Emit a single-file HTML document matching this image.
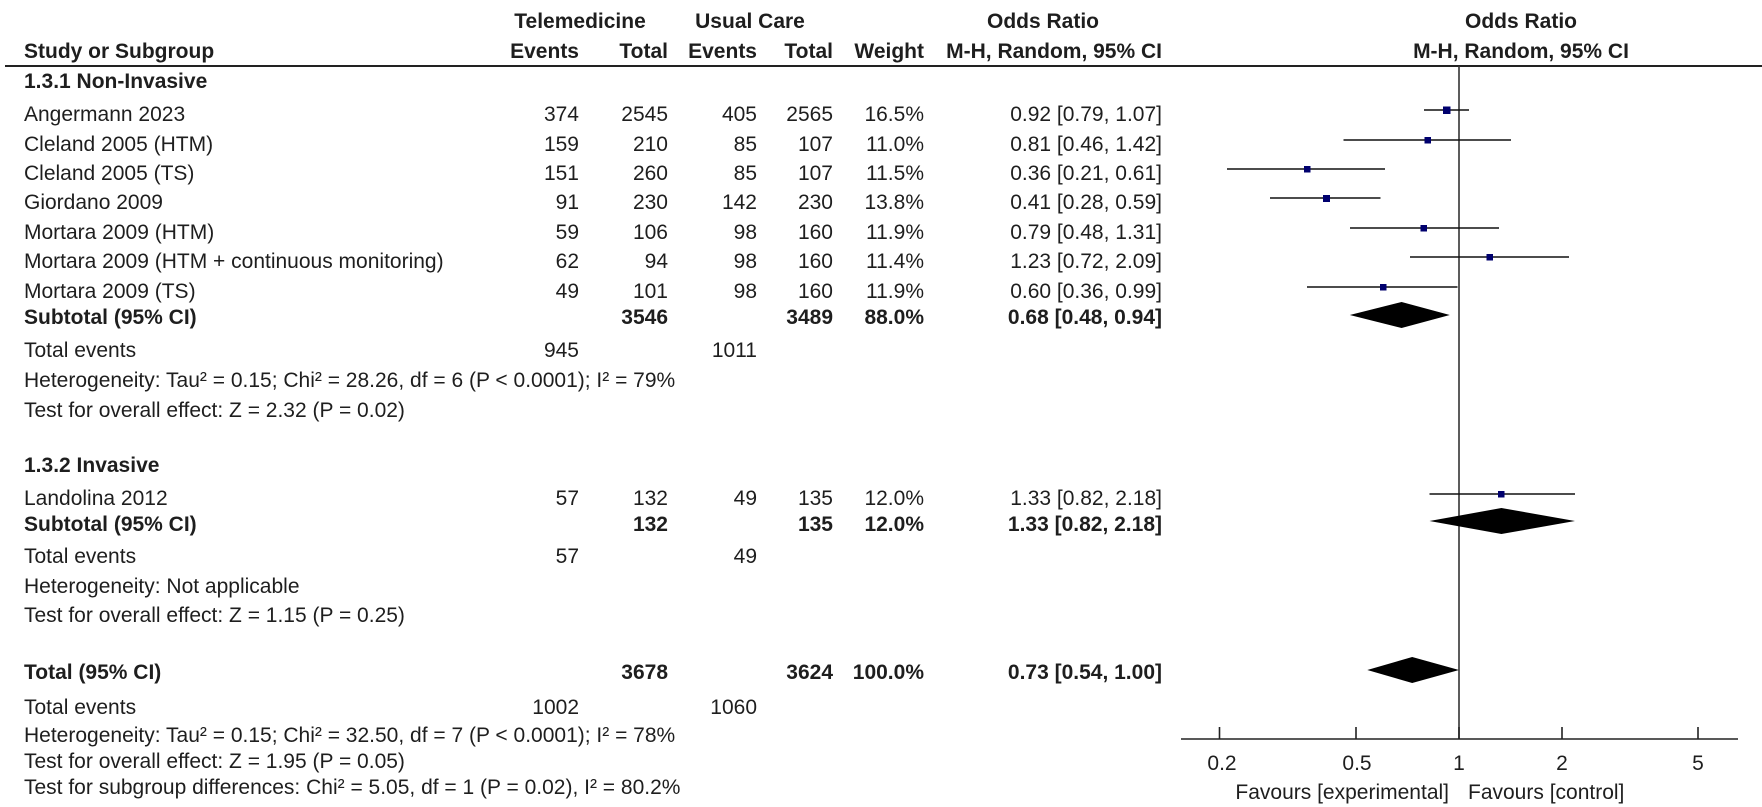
<!DOCTYPE html>
<html><head><meta charset="utf-8"><style>
html,body{margin:0;padding:0;background:#fff;}
svg{display:block;font-family:"Liberation Sans",Arial,sans-serif;font-size:21px;fill:#1e1e1e;}
.b{font-weight:bold;}
.e{text-anchor:end;}
.m{text-anchor:middle;}
</style></head><body>
<svg width="1762" height="807" viewBox="0 0 1762 807" xmlns="http://www.w3.org/2000/svg">
<text class="b m" x="580" y="28">Telemedicine</text>
<text class="b m" x="750" y="28">Usual Care</text>
<text class="b m" x="1043" y="28">Odds Ratio</text>
<text class="b m" x="1521" y="28">Odds Ratio</text>
<text class="b" x="24" y="58">Study or Subgroup</text>
<text class="b e" x="579" y="58">Events</text>
<text class="b e" x="668" y="58">Total</text>
<text class="b e" x="757" y="58">Events</text>
<text class="b e" x="833" y="58">Total</text>
<text class="b e" x="924" y="58">Weight</text>
<text class="b e" x="1162" y="58">M-H, Random, 95% CI</text>
<text class="b m" x="1521" y="58">M-H, Random, 95% CI</text>
<rect x="5" y="65" width="1757" height="2" fill="#222"/>

<text class="b" x="24" y="88">1.3.1 Non-Invasive</text>

<g>
<text x="24" y="121">Angermann 2023</text><text class="e" x="579" y="121">374</text><text class="e" x="668" y="121">2545</text><text class="e" x="757" y="121">405</text><text class="e" x="833" y="121">2565</text><text class="e" x="924" y="121">16.5%</text><text class="e" x="1162" y="121">0.92 [0.79, 1.07]</text>
<text x="24" y="151">Cleland 2005 (HTM)</text><text class="e" x="579" y="151">159</text><text class="e" x="668" y="151">210</text><text class="e" x="757" y="151">85</text><text class="e" x="833" y="151">107</text><text class="e" x="924" y="151">11.0%</text><text class="e" x="1162" y="151">0.81 [0.46, 1.42]</text>
<text x="24" y="180">Cleland 2005 (TS)</text><text class="e" x="579" y="180">151</text><text class="e" x="668" y="180">260</text><text class="e" x="757" y="180">85</text><text class="e" x="833" y="180">107</text><text class="e" x="924" y="180">11.5%</text><text class="e" x="1162" y="180">0.36 [0.21, 0.61]</text>
<text x="24" y="209">Giordano 2009</text><text class="e" x="579" y="209">91</text><text class="e" x="668" y="209">230</text><text class="e" x="757" y="209">142</text><text class="e" x="833" y="209">230</text><text class="e" x="924" y="209">13.8%</text><text class="e" x="1162" y="209">0.41 [0.28, 0.59]</text>
<text x="24" y="239">Mortara 2009 (HTM)</text><text class="e" x="579" y="239">59</text><text class="e" x="668" y="239">106</text><text class="e" x="757" y="239">98</text><text class="e" x="833" y="239">160</text><text class="e" x="924" y="239">11.9%</text><text class="e" x="1162" y="239">0.79 [0.48, 1.31]</text>
<text x="24" y="268">Mortara 2009 (HTM + continuous monitoring)</text><text class="e" x="579" y="268">62</text><text class="e" x="668" y="268">94</text><text class="e" x="757" y="268">98</text><text class="e" x="833" y="268">160</text><text class="e" x="924" y="268">11.4%</text><text class="e" x="1162" y="268">1.23 [0.72, 2.09]</text>
<text x="24" y="298">Mortara 2009 (TS)</text><text class="e" x="579" y="298">49</text><text class="e" x="668" y="298">101</text><text class="e" x="757" y="298">98</text><text class="e" x="833" y="298">160</text><text class="e" x="924" y="298">11.9%</text><text class="e" x="1162" y="298">0.60 [0.36, 0.99]</text>
<text class="b" x="24" y="324">Subtotal (95% CI)</text><text class="b e" x="668" y="324">3546</text><text class="b e" x="833" y="324">3489</text><text class="b e" x="924" y="324">88.0%</text><text class="b e" x="1162" y="324">0.68 [0.48, 0.94]</text>
<text x="24" y="357">Total events</text><text class="e" x="579" y="357">945</text><text class="e" x="757" y="357">1011</text>
<text x="24" y="387">Heterogeneity: Tau² = 0.15; Chi² = 28.26, df = 6 (P &lt; 0.0001); I² = 79%</text>
<text x="24" y="417">Test for overall effect: Z = 2.32 (P = 0.02)</text>

<text class="b" x="24" y="472">1.3.2 Invasive</text>
<text x="24" y="505">Landolina 2012</text><text class="e" x="579" y="505">57</text><text class="e" x="668" y="505">132</text><text class="e" x="757" y="505">49</text><text class="e" x="833" y="505">135</text><text class="e" x="924" y="505">12.0%</text><text class="e" x="1162" y="505">1.33 [0.82, 2.18]</text>
<text class="b" x="24" y="531">Subtotal (95% CI)</text><text class="b e" x="668" y="531">132</text><text class="b e" x="833" y="531">135</text><text class="b e" x="924" y="531">12.0%</text><text class="b e" x="1162" y="531">1.33 [0.82, 2.18]</text>
<text x="24" y="563">Total events</text><text class="e" x="579" y="563">57</text><text class="e" x="757" y="563">49</text>
<text x="24" y="593">Heterogeneity: Not applicable</text>
<text x="24" y="622">Test for overall effect: Z = 1.15 (P = 0.25)</text>

<text class="b" x="24" y="679">Total (95% CI)</text><text class="b e" x="668" y="679">3678</text><text class="b e" x="833" y="679">3624</text><text class="b e" x="924" y="679">100.0%</text><text class="b e" x="1162" y="679">0.73 [0.54, 1.00]</text>
<text x="24" y="714">Total events</text><text class="e" x="579" y="714">1002</text><text class="e" x="757" y="714">1060</text>
<text x="24" y="742">Heterogeneity: Tau² = 0.15; Chi² = 32.50, df = 7 (P &lt; 0.0001); I² = 78%</text>
<text x="24" y="768">Test for overall effect: Z = 1.95 (P = 0.05)</text>
<text x="24" y="794">Test for subgroup differences: Chi² = 5.05, df = 1 (P = 0.02), I² = 80.2%</text>
</g>

<line x1="1459" y1="66" x2="1459" y2="739" stroke="#333" stroke-width="1.6"/>
<g stroke="#111" stroke-width="1.5">
<line x1="1424" y1="110" x2="1469" y2="110"/>
<line x1="1343.5" y1="140" x2="1511" y2="140"/>
<line x1="1227" y1="169" x2="1385" y2="169"/>
<line x1="1270" y1="198" x2="1380.5" y2="198"/>
<line x1="1350" y1="228" x2="1499" y2="228"/>
<line x1="1410" y1="257" x2="1569" y2="257"/>
<line x1="1307" y1="287" x2="1457.5" y2="287"/>
<line x1="1429.5" y1="494" x2="1575" y2="494"/>
</g>
<g fill="#00006e">
<rect x="1443" y="106.5" width="7.5" height="7.5"/>
<rect x="1424.5" y="137" width="6.5" height="6.5"/>
<rect x="1304" y="166" width="6.5" height="6.5"/>
<rect x="1323" y="195" width="7" height="7"/>
<rect x="1420.5" y="225" width="6.5" height="6.5"/>
<rect x="1486.5" y="254" width="6.5" height="6.5"/>
<rect x="1380" y="284" width="6.5" height="6.5"/>
<rect x="1498" y="491" width="6.5" height="6.5"/>
</g>
<g fill="#000">
<polygon points="1349.8,315 1401.6,302 1449.8,315 1401.6,328"/>
<polygon points="1429.5,521 1501.4,508 1575,521 1501.4,534"/>
<polygon points="1367.3,670 1412.2,657 1459,670 1412.2,683"/>
</g>
<g stroke="#222" stroke-width="1.6">
<line x1="1181" y1="739" x2="1738" y2="739"/>
<line x1="1219.5" y1="727" x2="1219.5" y2="739"/>
<line x1="1356" y1="727" x2="1356" y2="739"/>
<line x1="1459" y1="727" x2="1459" y2="739"/>
<line x1="1562" y1="727" x2="1562" y2="739"/>
<line x1="1698" y1="727" x2="1698" y2="739"/>
</g>
<text class="m" x="1222" y="770">0.2</text>
<text class="m" x="1357" y="770">0.5</text>
<text class="m" x="1459" y="770">1</text>
<text class="m" x="1562" y="770">2</text>
<text class="m" x="1698" y="770">5</text>
<text class="e" x="1449" y="799">Favours [experimental]</text>
<text x="1468" y="799">Favours [control]</text>
</svg>
</body></html>
